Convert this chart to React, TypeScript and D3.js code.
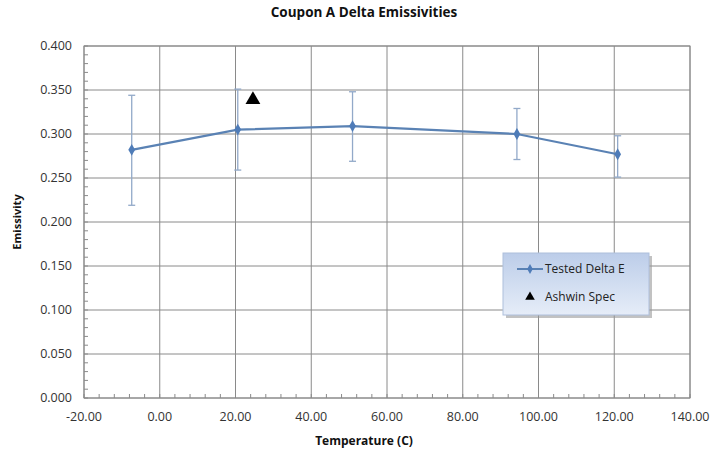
import React, { useEffect, useRef } from "react";
import * as d3 from "d3";

const temps = [-7.4, 20.6, 50.9, 94.3, 120.9];
const deltaE = [0.282, 0.305, 0.309, 0.3, 0.277];
const errHigh = [0.344, 0.351, 0.348, 0.329, 0.298];
const errLow = [0.219, 0.259, 0.269, 0.271, 0.251];
const specTemp = [24.6];
const specValue = [0.339];
const xTicks = [-20, 0, 20, 40, 60, 80, 100, 120, 140];
const yTicks = [0, 0.05, 0.1, 0.15, 0.2, 0.25, 0.3, 0.35, 0.4];

const App = () => {
  const svgRef = useRef<SVGSVGElement>(null);

  useEffect(() => {
    const w = 721;
    const h = 455;
    const svg = d3.select(svgRef.current).attr("width", w).attr("height", h);
    svg.selectAll("*").remove();

    const font = "'Open Sans', 'DejaVu Sans', sans-serif";
    const left = 84;
    const right = 690;
    const top = 46;
    const bottom = 398;

    const x = d3.scaleLinear().domain([-20, 140]).range([left, right]);
    const y = d3.scaleLinear().domain([0, 0.4]).range([bottom, top]);

    const defs = svg.append("defs");
    const grad = defs
      .append("linearGradient")
      .attr("id", "lg")
      .attr("x1", 0)
      .attr("y1", 0)
      .attr("x2", 0)
      .attr("y2", 1);
    grad.append("stop").attr("offset", "0%").attr("stop-color", "#bccde9");
    grad.append("stop").attr("offset", "100%").attr("stop-color", "#e6edf8");

    // grid
    svg
      .append("g")
      .selectAll("line")
      .data(xTicks)
      .join("line")
      .attr("x1", (d) => x(d))
      .attr("x2", (d) => x(d))
      .attr("y1", top)
      .attr("y2", bottom)
      .attr("stroke", "#8a8a8a")
      .attr("stroke-width", 1);
    svg
      .append("g")
      .selectAll("line")
      .data(yTicks)
      .join("line")
      .attr("x1", left)
      .attr("x2", right)
      .attr("y1", (d) => y(d))
      .attr("y2", (d) => y(d))
      .attr("stroke", "#8a8a8a")
      .attr("stroke-width", 1);

    // minor ticks
    const xMinor = d3.range(-20, 140.001, 4);
    svg
      .append("g")
      .selectAll("line")
      .data(xMinor)
      .join("line")
      .attr("x1", (d) => x(d))
      .attr("x2", (d) => x(d))
      .attr("y1", bottom)
      .attr("y2", bottom - 4)
      .attr("stroke", "#8a8a8a");
    const yMinor = d3.range(0, 0.4001, 0.01);
    svg
      .append("g")
      .selectAll("line")
      .data(yMinor)
      .join("line")
      .attr("x1", left)
      .attr("x2", left + 4)
      .attr("y1", (d) => y(d))
      .attr("y2", (d) => y(d))
      .attr("stroke", "#8a8a8a");

    // tick labels
    svg
      .append("g")
      .selectAll("text")
      .data(xTicks)
      .join("text")
      .attr("x", (d) => x(d))
      .attr("y", bottom + 23)
      .attr("text-anchor", "middle")
      .attr("font-family", font)
      .attr("font-size", 12.5)
      .attr("fill", "#333")
      .text((d) => d.toFixed(2));
    svg
      .append("g")
      .selectAll("text")
      .data(yTicks)
      .join("text")
      .attr("x", left - 12)
      .attr("y", (d) => y(d) + 4)
      .attr("text-anchor", "end")
      .attr("font-family", font)
      .attr("font-size", 12.5)
      .attr("fill", "#333")
      .text((d) => d.toFixed(3));

    // error bars
    const eb = svg.append("g").attr("stroke", "#92a9c9").attr("stroke-width", 1.3);
    temps.forEach((t, i) => {
      eb.append("line")
        .attr("x1", x(t))
        .attr("x2", x(t))
        .attr("y1", y(errHigh[i]))
        .attr("y2", y(errLow[i]));
      [errHigh[i], errLow[i]].forEach((v) => {
        eb.append("line")
          .attr("x1", x(t) - 3.5)
          .attr("x2", x(t) + 3.5)
          .attr("y1", y(v))
          .attr("y2", y(v));
      });
    });

    // line
    const line = d3
      .line<number>()
      .x((d, i) => x(temps[i]))
      .y((d) => y(d));
    svg
      .append("path")
      .datum(deltaE)
      .attr("d", line)
      .attr("fill", "none")
      .attr("stroke", "#5a82b4")
      .attr("stroke-width", 2.2);

    const diamond = d3.symbol().type(d3.symbolDiamond).size(40);
    svg
      .append("g")
      .selectAll("path")
      .data(deltaE)
      .join("path")
      .attr("transform", (d, i) => `translate(${x(temps[i])},${y(d)})`)
      .attr("d", diamond)
      .attr("fill", "#4f7cb8");

    const tri = d3.symbol().type(d3.symbolTriangle).size(95);
    svg
      .append("g")
      .selectAll("path")
      .data(specValue)
      .join("path")
      .attr("transform", (d, i) => `translate(${x(specTemp[i])},${y(d)})`)
      .attr("d", tri)
      .attr("fill", "#000");

    // titles
    svg
      .append("text")
      .attr("x", 364)
      .attr("y", 17)
      .attr("text-anchor", "middle")
      .attr("font-family", font)
      .attr("font-weight", "bold")
      .attr("font-size", 13.5)
      .attr("fill", "#111")
      .text("Coupon A Delta Emissivities");
    svg
      .append("text")
      .attr("x", 364)
      .attr("y", 445)
      .attr("text-anchor", "middle")
      .attr("font-family", font)
      .attr("font-weight", "bold")
      .attr("font-size", 12)
      .attr("fill", "#111")
      .text("Temperature (C)");
    svg
      .append("text")
      .attr("transform", "translate(21,222) rotate(-90)")
      .attr("text-anchor", "middle")
      .attr("font-family", font)
      .attr("font-weight", "bold")
      .attr("font-size", 11)
      .attr("fill", "#111")
      .text("Emissivity");

    // legend
    const lg = svg.append("g").attr("transform", "translate(503,253)");
    lg.append("rect")
      .attr("x", 3)
      .attr("y", 3)
      .attr("width", 146)
      .attr("height", 62)
      .attr("fill", "#9a9a9a")
      .attr("opacity", 0.6);
    lg.append("rect")
      .attr("width", 146)
      .attr("height", 62)
      .attr("fill", "url(#lg)")
      .attr("stroke", "#aebfdc");
    lg.append("line")
      .attr("x1", 14)
      .attr("x2", 40)
      .attr("y1", 16)
      .attr("y2", 16)
      .attr("stroke", "#5a82b4")
      .attr("stroke-width", 2);
    lg.append("path")
      .attr("transform", "translate(27,16)")
      .attr("d", d3.symbol().type(d3.symbolDiamond).size(28))
      .attr("fill", "#4f7cb8");
    lg.append("path")
      .attr("transform", "translate(27,44)")
      .attr("d", d3.symbol().type(d3.symbolTriangle).size(40))
      .attr("fill", "#000");
    lg.append("text")
      .attr("x", 42)
      .attr("y", 20)
      .attr("font-family", font)
      .attr("font-size", 12)
      .attr("fill", "#222")
      .text("Tested Delta E");
    lg.append("text")
      .attr("x", 42)
      .attr("y", 48)
      .attr("font-family", font)
      .attr("font-size", 12)
      .attr("fill", "#222")
      .text("Ashwin Spec");

    // border
    svg
      .append("rect")
      .attr("x", left)
      .attr("y", top)
      .attr("width", right - left)
      .attr("height", bottom - top)
      .attr("fill", "none")
      .attr("stroke", "#8a8a8a");
  }, []);

  return (
    <div style={{ position: "absolute", left: 0, top: 0 }}>
      <svg ref={svgRef}></svg>
    </div>
  );
};

export default App;
